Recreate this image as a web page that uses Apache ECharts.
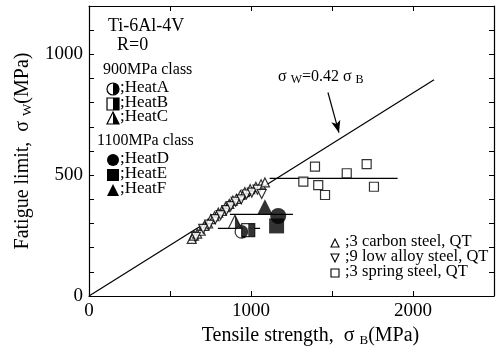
<!DOCTYPE html>
<html>
<head>
<meta charset="utf-8">
<script src="https://cdn.jsdelivr.net/npm/echarts@6/dist/echarts.min.js"></script>
</head>
<body style="margin:0;background-color:#ffffff">
<div id="main" style="width:499px;height:353px;"></div>
<script type="text/javascript">
// data: [tensile strength, fatigue limit] in MPa
var carbonSteel = [[634,236],[648,250],[668,258],[690,270],[712,290],[735,300],[752,318],[775,330],[798,345],[820,352],
  [842,368],[866,381],[888,395],[910,402],[935,418],[962,430],[995,442],[1030,452],[1062,462],[1086,470]];
var lowAlloySteel = [[660,245],[705,278],[742,295],[780,318],[812,335],[848,355],[875,372],[905,390],[940,400],
  [972,420],[1005,428],[1040,440],[1066,422]];
var springSteel = [[1323,473],[1395,535],[1415,459],[1457,418],[1591,508],[1714,546],[1759,452]];
var heatA = [[942,266]];
var heatB = [[983,273]];
var heatC = [[901,307]];
var heatD = [[1168,331]];
var heatE = [[1158,290]];
var heatF = [[1086,369]];
var ratioLine = [[0,0],[2130,895]];
var springMean = [[1115,487],[1905,487]];
var tiMean1 = [[870,338],[1259,338]];
var tiMean2 = [[796,280],[1056,280]];
var arrowFrom = [1475,842];
var arrowTo = [1543,676];

var serif = 'Liberation Serif';
var myChart = echarts.init(document.getElementById('main'));

function axisBase(pos){
  return {
    type: 'value', position: pos,
    axisLine: {show: true, onZero: false, lineStyle: {color: '#000', width: 1.2}},
    axisTick: {show: true, inside: true, length: 5, lineStyle: {color: '#000', width: 1}},
    splitLine: {show: false}
  };
}
var subRich = {s: {fontFamily: serif, fontSize: 13, verticalAlign: 'bottom', padding: [9,0,0,0]}};

var xBottom = axisBase('bottom');
xBottom.min = 0; xBottom.max = 2500; xBottom.interval = 500;
xBottom.axisLabel = {color: '#000', fontFamily: serif, fontSize: 19, margin: 6,
  formatter: function(v){ return v % 1000 === 0 ? v : ''; }};
xBottom.name = 'Tensile strength,  σ {s|B}(MPa)';
xBottom.nameLocation = 'middle';
xBottom.nameGap = 27;
xBottom.nameTextStyle = {color: '#000', fontFamily: serif, fontSize: 20, padding: [0,0,0,38], rich: subRich};
var xTop = axisBase('top');
xTop.min = 0; xTop.max = 2500; xTop.interval = 500; xTop.axisLabel = {show: false};

var yLeft = axisBase('left');
yLeft.min = 0; yLeft.max = 1200; yLeft.interval = 100;
yLeft.axisLabel = {color: '#000', fontFamily: serif, fontSize: 19, margin: 6,
  formatter: function(v){ return v % 500 === 0 ? v : ''; }};
yLeft.name = 'Fatigue limit,  σ {s|W}(MPa)';
yLeft.nameLocation = 'middle';
yLeft.nameGap = 55;
yLeft.nameTextStyle = {color: '#000', fontFamily: serif, fontSize: 20, rich: subRich};
var yRight = axisBase('right');
yRight.min = 0; yRight.max = 1200; yRight.interval = 100; yRight.axisLabel = {show: false};

function openMarks(name, data, symbol, size, rotate){
  return {name: name, type: 'scatter', data: data, symbol: symbol, symbolSize: size, symbolRotate: rotate || 0,
    itemStyle: {color: '#fff', borderColor: '#000', borderWidth: 1.2}, z: 3};
}
function solidMarks(name, data, symbol, size){
  return {name: name, type: 'scatter', data: data, symbol: symbol, symbolSize: size,
    itemStyle: {color: '#000'}, z: 4};
}
// right half filled overlay
function halfMarks(name, data, path, size){
  return {name: name, type: 'scatter', data: data, symbol: path, symbolKeepAspect: false,
    symbolSize: [size/2, size], symbolOffset: [size/4, 0], itemStyle: {color: '#000'}, z: 5};
}
function segment(data, w){
  return {type: 'line', data: data, symbol: 'none', lineStyle: {color: '#000', width: w || 1.2}, z: 2, silent: true};
}

var ratio = segment(ratioLine, 1.2);
ratio.markLine = {silent: true, symbol: ['none','arrow'], symbolSize: [7, 12],
  label: {show: false}, lineStyle: {color: '#000', width: 1.2, type: 'solid'},
  data: [[{coord: arrowFrom}, {coord: arrowTo}]]};

option = {
  animation: false,
  grid: {left: 89, right: 5, top: 6, bottom: 57},
  xAxis: [xBottom, xTop],
  yAxis: [yLeft, yRight],
  series: [
    ratio,
    segment(springMean, 1.2),
    segment(tiMean1, 1.2),
    segment(tiMean2, 1.2),
    openMarks('carbon', carbonSteel, 'triangle', 9),
    openMarks('lowalloy', lowAlloySteel, 'triangle', 9, 180),
    openMarks('spring', springSteel, 'rect', 9),
    openMarks('HeatA', heatA, 'circle', 13),
    halfMarks('HeatA half', heatA, 'path://M0,0 C0.55,0 1,0.45 1,1 C1,1.55 0.55,2 0,2 Z', 13),
    openMarks('HeatB', heatB, 'rect', 13),
    halfMarks('HeatB half', heatB, 'rect', 13),
    openMarks('HeatC', heatC, 'triangle', 13),
    halfMarks('HeatC half', heatC, 'path://M0,0 L1,2 L0,2 Z', 13),
    solidMarks('HeatD', heatD, 'circle', 16),
    solidMarks('HeatE', heatE, 'rect', 15),
    solidMarks('HeatF', heatF, 'triangle', 15)
  ],
  graphic: []
};

// annotation and legend texts
var g = option.graphic;
function txt(x, y, s, size, rich){
  g.push({type: 'text', left: x, top: y - size*0.6, z: 10,
    style: {text: s, fill: '#000', font: size + 'px "' + serif + '"', rich: rich}});
}
txt(108, 28, 'Ti-6Al-4V', 18);
txt(117, 47, 'R=0', 18);
txt(103, 71, '900MPa class', 16);
txt(97, 142, '1100MPa class', 16);
var heatRows = [[89,';HeatA'],[104,';HeatB'],[118,';HeatC'],[160,';HeatD'],[175,';HeatE'],[190,';HeatF']];
heatRows.forEach(function(r){ txt(120, r[0], r[1], 17); });
var mx = 113, ms = 6;
// HeatA legend
g.push({type: 'circle', shape: {cx: mx, cy: 89, r: ms}, style: {fill: '#fff', stroke: '#000', lineWidth: 1.2}, z: 10});
g.push({type: 'sector', shape: {cx: mx, cy: 89, r: ms, r0: 0, startAngle: -Math.PI/2, endAngle: Math.PI/2}, style: {fill: '#000'}, z: 11});
// HeatB legend
g.push({type: 'rect', shape: {x: mx-ms, y: 104-ms, width: 2*ms, height: 2*ms}, style: {fill: '#fff', stroke: '#000', lineWidth: 1.2}, z: 10});
g.push({type: 'rect', shape: {x: mx, y: 104-ms, width: ms, height: 2*ms}, style: {fill: '#000'}, z: 11});
// HeatC legend
g.push({type: 'polygon', shape: {points: [[mx,118-ms],[mx+ms,118+ms],[mx-ms,118+ms]]}, style: {fill: '#fff', stroke: '#000', lineWidth: 1.2}, z: 10});
g.push({type: 'polygon', shape: {points: [[mx,118-ms],[mx+ms,118+ms],[mx,118+ms]]}, style: {fill: '#000'}, z: 11});
// HeatD, E, F legend
g.push({type: 'circle', shape: {cx: mx, cy: 160, r: ms}, style: {fill: '#000'}, z: 10});
g.push({type: 'rect', shape: {x: mx-ms, y: 175-ms, width: 2*ms, height: 2*ms}, style: {fill: '#000'}, z: 10});
g.push({type: 'polygon', shape: {points: [[mx,190-ms],[mx+ms,190+ms],[mx-ms,190+ms]]}, style: {fill: '#000'}, z: 10});

// steel legend bottom right
var steelRows = [[243,';3 carbon steel, QT'],[258,';9 low alloy steel, QT'],[273,';3 spring steel, QT']];
steelRows.forEach(function(r){ txt(345, r[0], r[1], 16.5); });
var sx = 335, ss = 4;
g.push({type: 'polygon', shape: {points: [[sx,243-ss],[sx+ss,243+ss],[sx-ss,243+ss]]}, style: {fill: '#fff', stroke: '#000', lineWidth: 1.1}, z: 10});
g.push({type: 'polygon', shape: {points: [[sx,258+ss],[sx+ss,258-ss],[sx-ss,258-ss]]}, style: {fill: '#fff', stroke: '#000', lineWidth: 1.1}, z: 10});
g.push({type: 'rect', shape: {x: sx-ss, y: 273-ss, width: 2*ss, height: 2*ss}, style: {fill: '#fff', stroke: '#000', lineWidth: 1.1}, z: 10});

// equation label
txt(278, 78, 'σ {s|W}=0.42 σ {s|B}', 16, {s: {fontFamily: serif, fontSize: 12, verticalAlign: 'bottom', padding: [7,0,0,0]}});

myChart.setOption(option);
</script>
</body>
</html>
